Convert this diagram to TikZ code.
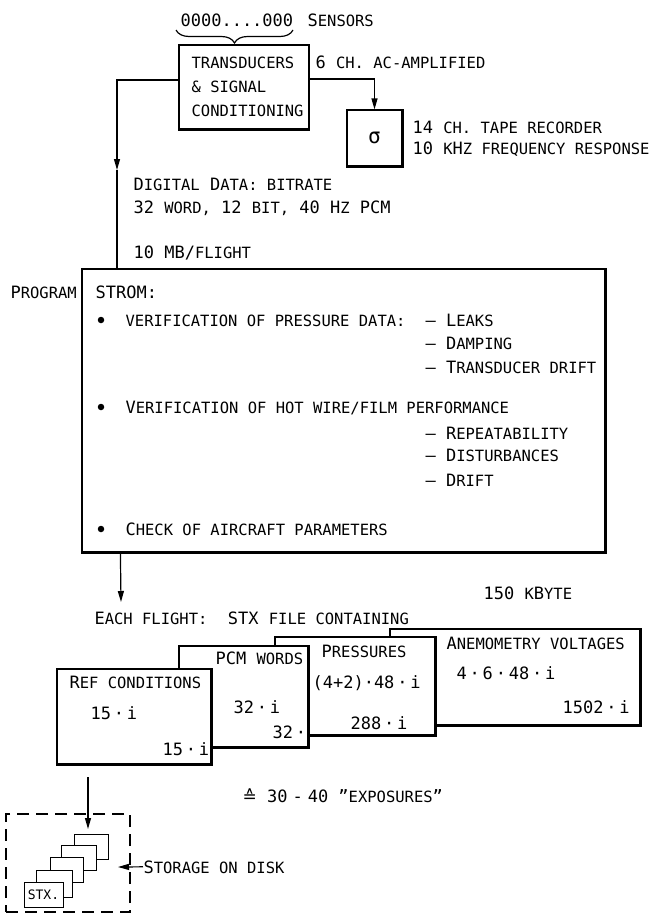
\documentclass[tikz,border=0pt]{standalone}
\usepackage{fontspec}
\setmainfont{DejaVu Sans Mono}
\newfontfamily\djs{DejaVu Sans}
\usetikzlibrary{arrows.meta,decorations.pathreplacing}
\newcommand\Sm[1]{{\fontsize{15.5}{18}\selectfont\MakeUppercase{#1}}}
\begin{document}
\begin{tikzpicture}[x=1pt,y=-1pt,line width=1.2pt,
  every node/.style={inner sep=0pt,font=\fontsize{17}{24}\selectfont},
  box/.style={draw,fill=white,line width=1.2pt},
  thickedge/.style={line width=2.6pt},
  txt/.style={anchor=base west,align=left},
  arr/.style={-{Triangle[length=11pt,width=6pt]}},
  dot/.style={circle,fill,minimum size=6.5pt},
  sbox/.style={draw,fill=white,line width=1pt}]
\useasboundingbox (0,0) rectangle (652,921);

% ---- top ----
\node[txt] (sens) at (180,26) {0000....000};
\node[txt] (senl) at (307,26) {S\Sm{ensors}};
\draw[decorate,decoration={brace,mirror,amplitude=13pt}] (176,30) -- (293,30);

\node[box,minimum width=130pt,minimum height=84pt] (trans) at (244,87) {};
\draw[thickedge] (trans.south west) -- (trans.south east);
\node[txt] (transt) at (191,116) {\Sm{transducers}\\\Sm{\& signal}\\\Sm{conditioning}};
\node[txt] (amp) at (315,68) {6 \Sm{ch. ac-amplified}};

\node[box,minimum width=55pt,minimum height=56pt,font=\fontsize{21}{21}\selectfont] (sig) at (374.5,138) {σ};
\draw[thickedge] (sig.south west) -- (sig.south east) -- (sig.north east);
\node[txt,font=\fontsize{17}{21}\selectfont] (tape) at (412,154) {14 \Sm{ch. tape recorder}\\10 \Sm{k}H\Sm{z frequency response}};

\node[txt,font=\fontsize{17}{23}\selectfont] (dig) at (133,213) {D\Sm{igital} D\Sm{ata: bitrate}\\32 \Sm{word,} 12 \Sm{bit,} 40 H\Sm{z} PCM};
\node[txt] (mb) at (133,258) {10 MB/\Sm{flight}};

% ---- STROM box ----
\node[box,minimum width=523pt,minimum height=283pt] (strom) at (343.5,410.5) {};
\draw[thickedge] (strom.south west) -- (strom.south east) -- (strom.north east);
\node[txt] (prog) at (10,298) {P\Sm{rogram}};
\node[txt] (stromt) at (95,298) {STROM:};

\node[dot] (b1) at (101,320) {};
\node[txt] (v1) at (125,326) {\Sm{verification of pressure data:}};
\node[txt] (l1) at (425,326) {– L\Sm{eaks}};
\node[txt] (l2) at (425,349) {– D\Sm{amping}};
\node[txt] (l3) at (425,373) {– T\Sm{ransducer drift}};

\node[dot] (b2) at (101,407) {};
\node[txt] (v2) at (125,413) {V\Sm{erification of hot wire/film performance}};
\node[txt] (l4) at (425,439) {– R\Sm{epeatability}};
\node[txt] (l5) at (425,461) {– D\Sm{isturbances}};
\node[txt] (l6) at (425,486) {– D\Sm{rift}};

\node[dot] (b3) at (101,529) {};
\node[txt] (v3) at (125,535) {C\Sm{heck of aircraft parameters}};

% ---- connectors top ----
\coordinate (lk) at (117,80);
\coordinate (la) at (117,170);
\draw[arr] ([yshift=7pt]trans.west) -- (lk) -- (la);
\draw (la) -- (lk |- strom.north);
\draw[arr] ([yshift=8pt]trans.east) -| (sig.north);

% ---- below STROM ----
\coordinate (sb) at (121,602);
\draw[arr] ([xshift=39pt]strom.south west) -- (sb);
\node[txt] (kb) at (483,599) {150 \Sm{k}B\Sm{yte}};
\node[txt] (each) at (94,624) {E\Sm{ach flight:}\ \ STX \Sm{file containing}};

% stacked file boxes
\node[box,minimum width=250pt,minimum height=96pt] (anem) at (515,677) {};
\draw[thickedge] (anem.south west) -- (anem.south east) -- (anem.north east);
\node[txt] (anemt) at (446,649) {A\Sm{nemometry voltages}};
\node[txt] (anem1) at (456,679) {4\,·\,6\,·\,48\,·\,i};
\node[txt] (anem2) at (562,713) {1502\,·\,i};

\node[box,minimum width=160pt,minimum height=98pt] (press) at (355,686) {};
\draw[thickedge] (press.south west) -- (press.south east) -- (press.north east);
\node[txt] (presst) at (321,657) {P\Sm{ressures}};
\node[txt] (press1) at (312,688) {(4+2)·48\,·\,i};
\node[txt] (press2) at (350,729) {288\,·\,i};

\node[box,minimum width=129pt,minimum height=101pt] (pcm) at (243.5,696.5) {};
\draw[thickedge] (pcm.south west) -- (pcm.south east) -- (pcm.north east);
\node[txt] (pcmt) at (215,664) {PCM \Sm{words}};
\node[txt] (pcm1) at (233,713) {32\,·\,i};
\node[txt] (pcm2) at (272,738) {32\,·};

\node[box,minimum width=154pt,minimum height=95pt] (ref) at (134,716.5) {};
\draw[thickedge] (ref.south west) -- (ref.south east) -- (ref.north east);
\node[txt] (reft) at (69,688) {R\Sm{ef conditions}};
\node[txt] (ref1) at (90,719) {15\,·\,i};
\node[txt] (ref2) at (162,755) {15\,·\,i};

\node[txt] (exp) at (242,802) {{\djs ≙} 30\hspace{5pt}-\hspace{5pt}40 "\Sm{exposures}"};

% ---- storage ----
\node[draw,dash pattern=on 12pt off 7pt,line width=1.2pt,minimum width=124pt,minimum height=98pt] (dsk) at (68,863) {};
\coordinate (ra) at (88,777);
\coordinate (rb) at (88,829);
\draw[arr] (ra) -- (rb);

\node[sbox,minimum width=34pt,minimum height=25pt] (s5) at (91,846.5) {};
\node[sbox,minimum width=35pt,minimum height=25pt] (s4) at (78.5,857.5) {};
\node[sbox,minimum width=33pt,minimum height=25pt] (s3) at (66.5,869.5) {};
\node[sbox,minimum width=36pt,minimum height=27pt] (s2) at (54,883.5) {};
\node[sbox,minimum width=39pt,minimum height=25pt,font=\fontsize{13}{13}\selectfont] (s1) at (43.5,894.5) {STX.};

\coordinate (st) at (118,867);
\node[txt] (stor) at (143,873) {S\Sm{torage on disk}};
\draw[arr] (stor.west) -- (st);
\end{tikzpicture}
\end{document}
